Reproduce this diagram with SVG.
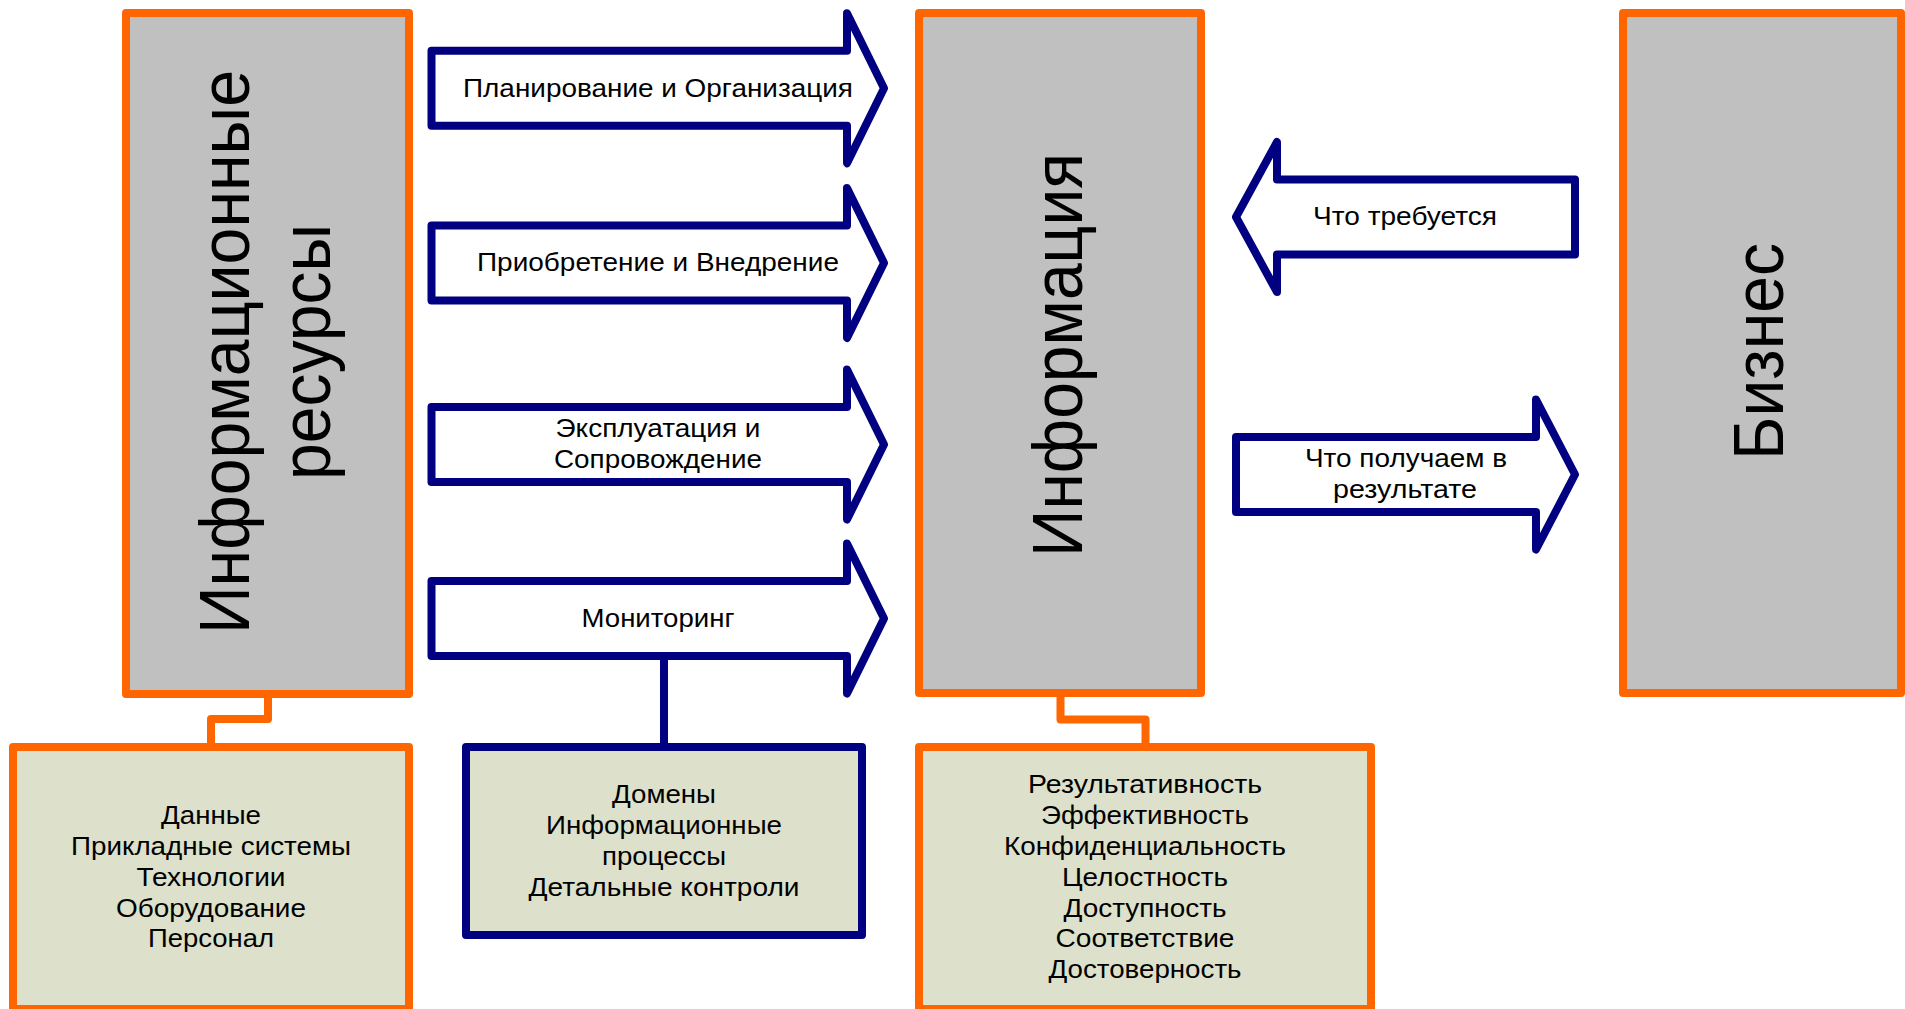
<svg xmlns="http://www.w3.org/2000/svg" width="1905" height="1009" viewBox="0 0 1905 1009">
<style>
.big{fill:#C0C0C0;stroke:#FF6600;stroke-width:8;stroke-linejoin:round}
.sub{fill:#DDE0CA;stroke:#FF6600;stroke-width:8;stroke-linejoin:round}
.subb{fill:#DDE0CA;stroke:#000080;stroke-width:8;stroke-linejoin:round}
.arr{fill:#FFFFFF;stroke:#000080;stroke-width:8;stroke-linejoin:round}
.oc{fill:none;stroke:#FF6600;stroke-width:8;stroke-linejoin:round}
.bc{fill:none;stroke:#000080;stroke-width:8}
text{font-family:"Liberation Sans",Arial,sans-serif;fill:#000;text-anchor:middle}
.s{font-size:25.5px}
.l{font-size:71px}
</style>
<rect width="1905" height="1009" fill="#FFFFFF"/>
<g id="connectors">
<path class="oc" d="M268,694 V719 H211 V747"/>
<path class="oc" d="M1060.5,693 V719.5 H1145.5 V747"/>
<path class="bc" d="M664,656 V747"/>
</g>
<g id="node-resources">
<rect class="big" x="126" y="13" width="283" height="681"/>
<text class="l" transform="translate(249,352) rotate(-90)" textLength="564" lengthAdjust="spacingAndGlyphs">Информационные</text>
<text class="l" transform="translate(330,352) rotate(-90)" textLength="256" lengthAdjust="spacingAndGlyphs">ресурсы</text>
</g>
<g id="node-information">
<rect class="big" x="919" y="13" width="282" height="680"/>
<text class="l" transform="translate(1082,355) rotate(-90)" textLength="404" lengthAdjust="spacingAndGlyphs">Информация</text>
</g>
<g id="node-business">
<rect class="big" x="1623" y="13" width="278" height="680"/>
<text class="l" transform="translate(1783,351.5) rotate(-90)" textLength="217" lengthAdjust="spacingAndGlyphs">Бизнес</text>
</g>
<g id="arrow-plan">
<path class="arr" d="M431.5,50.8 H847 V13.3 L884,88.3 L847,163.3 V125.8 H431.5 Z"/>
<text class="s" x="658" y="97" textLength="390" lengthAdjust="spacingAndGlyphs">Планирование и Организация</text>
</g>
<g id="arrow-acquire">
<path class="arr" d="M431.5,225.5 H847 V188 L884,263 L847,338 V300.5 H431.5 Z"/>
<text class="s" x="658" y="271" textLength="362" lengthAdjust="spacingAndGlyphs">Приобретение и Внедрение</text>
</g>
<g id="arrow-operate">
<path class="arr" d="M431.5,407 H847 V369.5 L884,444.5 L847,519.5 V482 H431.5 Z"/>
<text class="s" x="658" y="437" textLength="205" lengthAdjust="spacingAndGlyphs">Эксплуатация и</text>
<text class="s" x="658" y="468" textLength="208" lengthAdjust="spacingAndGlyphs">Сопровождение</text>
</g>
<g id="arrow-monitor">
<path class="arr" d="M431.5,581 H847 V543.5 L884,618.5 L847,693.5 V656 H431.5 Z"/>
<text class="s" x="658" y="627" textLength="153" lengthAdjust="spacingAndGlyphs">Мониторинг</text>
</g>
<g id="arrow-required">
<path class="arr" d="M1236,217 L1277,142 V179.5 H1575 V254.5 H1277 V292 Z"/>
<text class="s" x="1405" y="225" textLength="184" lengthAdjust="spacingAndGlyphs">Что требуется</text>
</g>
<g id="arrow-result">
<path class="arr" d="M1236,437 H1536 V399.5 L1575,474.5 L1536,549.5 V512 H1236 Z"/>
<text class="s" x="1406" y="467" textLength="202" lengthAdjust="spacingAndGlyphs">Что получаем в</text>
<text class="s" x="1405" y="498" textLength="144" lengthAdjust="spacingAndGlyphs">результате</text>
</g>
<g id="node-resource-list">
<rect class="sub" x="13" y="747" width="396" height="262"/>
<text class="s" x="211" y="823.5" textLength="100" lengthAdjust="spacingAndGlyphs">Данные</text>
<text class="s" x="211" y="854.5" textLength="280" lengthAdjust="spacingAndGlyphs">Прикладные системы</text>
<text class="s" x="211" y="885.5" textLength="149" lengthAdjust="spacingAndGlyphs">Технологии</text>
<text class="s" x="211" y="916.5" textLength="190" lengthAdjust="spacingAndGlyphs">Оборудование</text>
<text class="s" x="211" y="947" textLength="126" lengthAdjust="spacingAndGlyphs">Персонал</text>
</g>
<g id="node-domains">
<rect class="subb" x="466" y="747" width="396" height="188"/>
<text class="s" x="664" y="802.5" textLength="104" lengthAdjust="spacingAndGlyphs">Домены</text>
<text class="s" x="664" y="833.5" textLength="236" lengthAdjust="spacingAndGlyphs">Информационные</text>
<text class="s" x="664" y="864.5" textLength="124" lengthAdjust="spacingAndGlyphs">процессы</text>
<text class="s" x="664" y="895.5" textLength="271" lengthAdjust="spacingAndGlyphs">Детальные контроли</text>
</g>
<g id="node-criteria">
<rect class="sub" x="919" y="747" width="452" height="262"/>
<text class="s" x="1145" y="792.5" textLength="234" lengthAdjust="spacingAndGlyphs">Результативность</text>
<text class="s" x="1145" y="823.5" textLength="208" lengthAdjust="spacingAndGlyphs">Эффективность</text>
<text class="s" x="1145" y="854.5" textLength="282" lengthAdjust="spacingAndGlyphs">Конфиденциальность</text>
<text class="s" x="1145" y="885.5" textLength="166" lengthAdjust="spacingAndGlyphs">Целостность</text>
<text class="s" x="1145" y="916.5" textLength="163" lengthAdjust="spacingAndGlyphs">Доступность</text>
<text class="s" x="1145" y="947" textLength="179" lengthAdjust="spacingAndGlyphs">Соответствие</text>
<text class="s" x="1145" y="978" textLength="193" lengthAdjust="spacingAndGlyphs">Достоверность</text>
</g>
</svg>
